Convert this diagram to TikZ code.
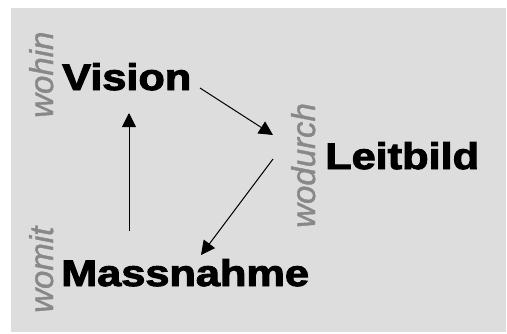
\documentclass[tikz,border=0pt]{standalone}
\usepackage{fontspec}
\usepackage{graphicx}
\setmainfont{Liberation Sans}
\newfontfamily\heavyfont{Liberation Sans Bold}[FakeBold=2.5]
\newfontfamily\labelfont{Liberation Sans Italic}[FakeBold=1.2]
\usetikzlibrary{arrows.meta}
\definecolor{bggray}{RGB}{221,221,221}
\definecolor{labelgray}{RGB}{136,136,136}
\tikzset{
  mainword/.style={inner sep=0pt, anchor=base west, text=black,
    font=\heavyfont\fontsize{37}{37}\selectfont},
  sideword/.style={inner sep=0pt, anchor=base west, rotate=90, text=labelgray,
    font=\labelfont\fontsize{33}{33}\selectfont},
  flow/.style={draw=black, line width=1pt, -{Triangle[length=14pt,width=14pt]}}
}
\begin{document}
\begin{tikzpicture}[x=1pt,y=-1pt]
\useasboundingbox (0,0) rectangle (507,333);
\fill[bggray] (11,8) rectangle (506,332);
\node[mainword] (vision) at (62,90) {\scalebox{1.17}[1]{Vision}};
\node[mainword] (leitbild) at (325,169) {\scalebox{1.17}[1]{Leitbild}};
\node[mainword] (massnahme) at (61,286) {\scalebox{1.17}[1]{Massnahme}};
\node[sideword] (wohin) at (53,118) {wohin};
\node[sideword] (wodurch) at (315,228) {wodurch};
\node[sideword] (womit) at (53,313) {womit};
\coordinate (v1) at (200,88);
\coordinate (l1) at (273,135);
\coordinate (l2) at (273,159);
\coordinate (m1) at (201,255);
\coordinate (m2) at (129,231);
\coordinate (v2) at (129,113);
\draw[flow] (v1) -- (l1);
\draw[flow] (l2) -- (m1);
\draw[flow] (m2) -- (v2);
\end{tikzpicture}
\end{document}
